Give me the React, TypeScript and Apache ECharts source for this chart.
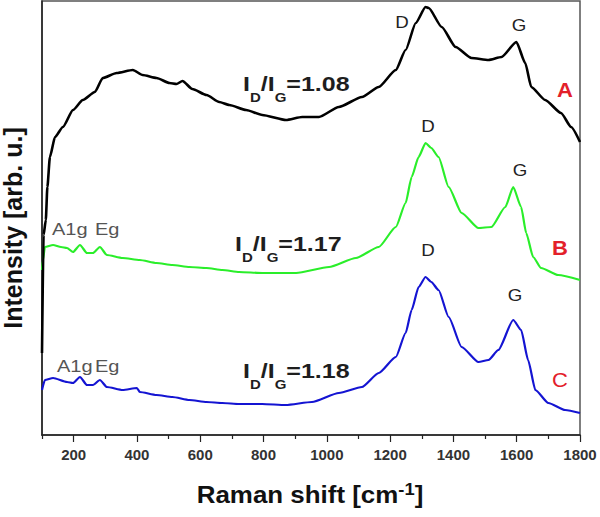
import React, { useEffect, useRef } from "react";
import * as echarts from "echarts";

// Raman shift (cm-1) and intensity (arb. u.)
const ramanA = [100, 105, 112, 117, 125, 141, 166, 198, 229, 267, 292, 336, 387, 418, 462, 503, 525, 544, 575, 620, 660, 692, 745, 796, 871, 922, 975, 1038, 1111, 1164, 1218, 1249, 1281, 1312, 1322, 1363, 1407, 1457, 1511, 1552, 1599, 1627, 1646, 1690, 1740, 1772, 1800];
const intensityA = [82, 200, 215, 248, 278, 298, 308, 325, 335, 343, 357, 362, 365, 360, 357, 352, 351, 354, 346, 340, 333, 330, 325, 320, 315, 318, 318, 328, 338, 348, 365, 385, 412, 428, 427, 408, 388, 377, 375, 378, 393, 372, 348, 335, 322, 308, 293];

const ramanB = [100, 103, 109, 135, 160, 179, 198, 220, 242, 261, 283, 305, 355, 409, 462, 512, 566, 620, 670, 723, 796, 903, 1007, 1092, 1164, 1218, 1249, 1268, 1290, 1312, 1330, 1353, 1385, 1426, 1479, 1520, 1564, 1589, 1614, 1630, 1652, 1677, 1731, 1800];
const intensityB = [165, 175, 188, 190, 188, 187, 183, 190, 182, 182, 188, 180, 177, 175, 172, 170, 168, 167, 165, 163, 162, 162, 168, 177, 188, 208, 232, 258, 278, 292, 287, 278, 248, 222, 207, 208, 228, 248, 228, 202, 178, 167, 160, 155];

const ramanC = [100, 109, 135, 179, 198, 220, 242, 261, 283, 305, 355, 400, 409, 462, 512, 566, 620, 670, 723, 796, 870, 953, 1038, 1111, 1164, 1218, 1249, 1268, 1290, 1312, 1330, 1353, 1385, 1426, 1479, 1511, 1542, 1589, 1614, 1636, 1659, 1700, 1753, 1800];
const intensityC = [45, 55, 57, 53, 52, 58, 50, 50, 55, 48, 45, 47, 43, 40, 38, 35, 33, 32, 31, 31, 30, 33, 42, 48, 62, 78, 102, 125, 148, 158, 153, 145, 118, 88, 73, 75, 85, 115, 105, 75, 45, 32, 25, 22];

const majorTicks = [200, 400, 600, 800, 1000, 1200, 1400, 1600, 1800];
const minorTicks = [100, 300, 500, 700, 900, 1100, 1300, 1500, 1700];

const ratioLabels = ["1.08", "1.17", "1.18"];
const sampleLabels = ["A", "B", "C"];

const FONT = "'Liberation Sans', Arial, sans-serif";

const zip = (xs: number[], ys: number[]) => xs.map((x, i) => [x, ys[i]]);

export default function App() {
  const ref = useRef<HTMLDivElement>(null);

  useEffect(() => {
    if (!ref.current) return;
    const chart = echarts.init(ref.current, null, { renderer: "svg" });

    const ratioText = (x: number, y: number, val: string) => ({
      type: "text",
      x,
      y,
      scaleX: 1.25,
      style: {
        text: `{a|I}{s|D}{a|/I}{s|G}{a|=${val}}`,
        align: "left",
        verticalAlign: "top",
        fill: "#1e1e1e",
        fontFamily: FONT,
        rich: {
          a: { fontSize: 20, fontWeight: "bold", lineHeight: 22, verticalAlign: "top", fill: "#1e1e1e", fontFamily: FONT },
          s: { fontSize: 12, fontWeight: "bold", lineHeight: 12, padding: [18, 0, 0, 0], verticalAlign: "top", fill: "#1e1e1e", fontFamily: FONT },
        },
      },
    });

    const peak = (x: number, y: number, t: string) => ({
      type: "text",
      x,
      y,
      scaleX: 1.1,
      style: { text: t, fontSize: 17, fill: "#222", align: "center", verticalAlign: "middle", fontFamily: FONT },
    });

    const mode = (x: number, y: number, t: string) => ({
      type: "text",
      x,
      y,
      scaleX: 1.25,
      style: { text: t, fontSize: 16, fill: "#555", align: "left", verticalAlign: "middle", fontFamily: FONT },
    });

    const sample = (x: number, y: number, t: string, bold: boolean) => ({
      type: "text",
      x,
      y,
      scaleX: 1.1,
      style: { text: t, fontSize: 20, fontWeight: bold ? "bold" : "normal", fill: "#e3202a", align: "center", verticalAlign: "middle", fontFamily: FONT },
    });

    chart.setOption({
      animation: false,
      grid: { left: 42, right: 20, top: 1, bottom: 82, show: true, borderColor: "#555", borderWidth: 1.5 },
      xAxis: [
        {
          type: "value",
          min: 100,
          max: 1800,
          axisLine: { show: true, lineStyle: { color: "#222", width: 1.5 } },
          axisTick: { show: true, customValues: majorTicks, length: 7, lineStyle: { color: "#222", width: 1.2 } },
          axisLabel: {
            customValues: majorTicks,
            formatter: (v: number) => String(v),
            fontSize: 15,
            fontWeight: "bold",
            color: "#333",
            margin: 12,
            fontFamily: FONT,
          },
          splitLine: { show: false },
        },
        {
          type: "value",
          min: 100,
          max: 1800,
          position: "bottom",
          axisLine: { show: false },
          axisTick: { show: true, customValues: minorTicks, length: 4, lineStyle: { color: "#222", width: 1.2 } },
          axisLabel: { show: false },
          splitLine: { show: false },
        },
      ],
      yAxis: {
        type: "value",
        min: 0,
        max: 434,
        axisLine: { show: true, lineStyle: { color: "#222", width: 1.5 } },
        axisTick: { show: false },
        axisLabel: { show: false },
        splitLine: { show: false },
      },
      series: [
        { name: "A", type: "line", xAxisIndex: 0, data: zip(ramanA, intensityA), showSymbol: false, smooth: 0.2, smoothMonotone: "x", lineStyle: { color: "#000", width: 2.6 }, z: 3 },
        { name: "B", type: "line", xAxisIndex: 0, data: zip(ramanB, intensityB), showSymbol: false, smooth: 0.2, smoothMonotone: "x", lineStyle: { color: "#2aee2a", width: 2.2 }, z: 2 },
        { name: "C", type: "line", xAxisIndex: 0, data: zip(ramanC, intensityC), showSymbol: false, smooth: 0.2, smoothMonotone: "x", lineStyle: { color: "#1414d2", width: 2.2 }, z: 2 },
      ],
      graphic: [
        {
          type: "text",
          x: 13,
          y: 228,
          rotation: Math.PI / 2,
          style: { text: "Intensity [arb. u.]", fontSize: 25, fontWeight: "bold", fill: "#111", align: "center", verticalAlign: "middle", fontFamily: FONT },
        },
        {
          type: "text",
          x: 310,
          y: 493,
          scaleX: 1.08,
          style: {
            text: "{a|Raman shift [cm}{s|-1}{a|]}",
            align: "center",
            verticalAlign: "middle",
            fill: "#111",
            fontFamily: FONT,
            rich: {
              a: { fontSize: 24, fontWeight: "bold", lineHeight: 26, verticalAlign: "bottom", fill: "#111", fontFamily: FONT },
              s: { fontSize: 17, fontWeight: "bold", lineHeight: 18, padding: [0, 0, 8, 0], verticalAlign: "bottom", fill: "#111", fontFamily: FONT },
            },
          },
        },
        ratioText(243, 74, ratioLabels[0]),
        ratioText(235, 234, ratioLabels[1]),
        ratioText(243, 361, ratioLabels[2]),
        peak(402, 22, "D"),
        peak(519, 25, "G"),
        peak(428, 126, "D"),
        peak(520, 170, "G"),
        peak(428, 250, "D"),
        peak(515, 295, "G"),
        sample(565, 90, sampleLabels[0], true),
        sample(560, 248, sampleLabels[1], true),
        sample(560, 380, sampleLabels[2], false),
        mode(52, 230, "A1g"),
        mode(95, 230, "Eg"),
        mode(57, 367, "A1g"),
        mode(95, 367, "Eg"),
      ],
    });

    return () => chart.dispose();
  }, []);

  return <div ref={ref} style={{ position: "fixed", left: 0, top: 0, width: 600, height: 517, background: "#fff" }} />;
}
